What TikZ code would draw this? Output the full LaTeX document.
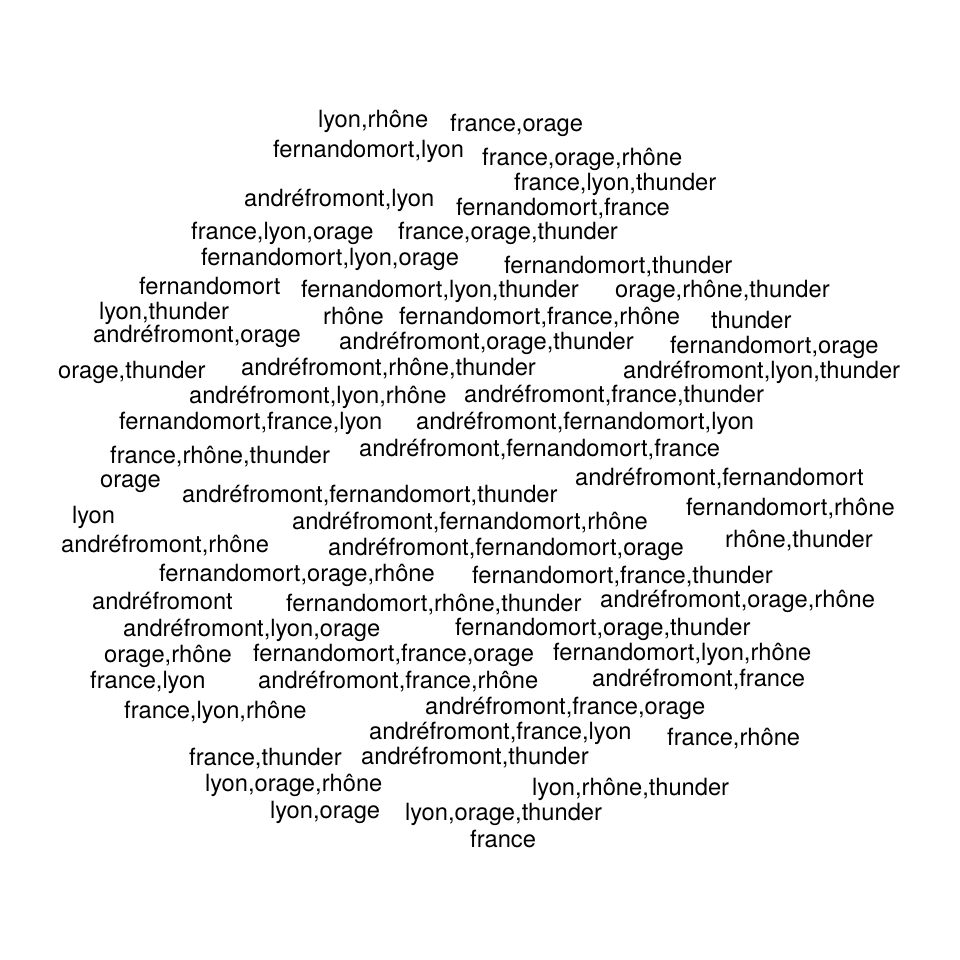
\documentclass[tikz,border=0pt]{standalone}
\usepackage{fontspec}
\setmainfont{TeX Gyre Heros}
\begin{document}
\begin{tikzpicture}[x=1pt,y=-1pt,
  word/.style={anchor=base west,inner sep=0pt,font=\fontsize{23.7}{28}\selectfont,text=black}]
\useasboundingbox[fill=white] (0,0) rectangle (960,960);
\node[word] (t1) at (318,127.5) {lyon,rhône};
\node[word] (t2) at (450,131.5) {france,orage};
\node[word] (t3) at (273,157.5) {fernandomort,lyon};
\node[word] (t4) at (482,165.5) {france,orage,rhône};
\node[word] (t5) at (514,190.5) {france,lyon,thunder};
\node[word] (t6) at (244,206.5) {andréfromont,lyon};
\node[word] (t7) at (456,215.5) {fernandomort,france};
\node[word] (t8) at (191,239.5) {france,lyon,orage};
\node[word] (t9) at (398,239.5) {france,orage,thunder};
\node[word] (t10) at (201,265.5) {fernandomort,lyon,orage};
\node[word] (t11) at (504,273.5) {fernandomort,thunder};
\node[word] (t12) at (139,294.5) {fernandomort};
\node[word] (t13) at (301,297.5) {fernandomort,lyon,thunder};
\node[word] (t14) at (615,297.5) {orage,rhône,thunder};
\node[word] (t15) at (99,319.5) {lyon,thunder};
\node[word] (t16) at (323,324.5) {rhône};
\node[word] (t17) at (399,324.5) {fernandomort,france,rhône};
\node[word] (t18) at (711,328.5) {thunder};
\node[word] (t19) at (93,342.5) {andréfromont,orage};
\node[word] (t20) at (339,349.5) {andréfromont,orage,thunder};
\node[word] (t21) at (670,353.5) {fernandomort,orage};
\node[word] (t22) at (58,378.5) {orage,thunder};
\node[word] (t23) at (241,375.5) {andréfromont,rhône,thunder};
\node[word] (t24) at (623,378.5) {andréfromont,lyon,thunder};
\node[word] (t25) at (189,403.5) {andréfromont,lyon,rhône};
\node[word] (t26) at (464,402.5) {andréfromont,france,thunder};
\node[word] (t27) at (119,429.5) {fernandomort,france,lyon};
\node[word] (t28) at (416,429.5) {andréfromont,fernandomort,lyon};
\node[word] (t29) at (110,463.5) {france,rhône,thunder};
\node[word] (t30) at (359,456.5) {andréfromont,fernandomort,france};
\node[word] (t31) at (575,485.5) {andréfromont,fernandomort};
\node[word] (t32) at (100,487) {orage};
\node[word] (t33) at (182,502.5) {andréfromont,fernandomort,thunder};
\node[word] (t34) at (686,515.5) {fernandomort,rhône};
\node[word] (t35) at (72,523.5) {lyon};
\node[word] (t36) at (292,529.5) {andréfromont,fernandomort,rhône};
\node[word] (t37) at (61,552.5) {andréfromont,rhône};
\node[word] (t38) at (328,555.5) {andréfromont,fernandomort,orage};
\node[word] (t39) at (725,547.5) {rhône,thunder};
\node[word] (t40) at (159,581.5) {fernandomort,orage,rhône};
\node[word] (t41) at (472,583.5) {fernandomort,france,thunder};
\node[word] (t42) at (92,609.5) {andréfromont};
\node[word] (t43) at (286,611.5) {fernandomort,rhône,thunder};
\node[word] (t44) at (600,607.5) {andréfromont,orage,rhône};
\node[word] (t45) at (123,636.5) {andréfromont,lyon,orage};
\node[word] (t46) at (455,635.5) {fernandomort,orage,thunder};
\node[word] (t47) at (104,662.5) {orage,rhône};
\node[word] (t48) at (253,661.5) {fernandomort,france,orage};
\node[word] (t49) at (553,660.5) {fernandomort,lyon,rhône};
\node[word] (t50) at (90,688.5) {france,lyon};
\node[word] (t51) at (258,688.5) {andréfromont,france,rhône};
\node[word] (t52) at (592,686.5) {andréfromont,france};
\node[word] (t53) at (124,718.5) {france,lyon,rhône};
\node[word] (t54) at (425,714.5) {andréfromont,france,orage};
\node[word] (t55) at (369,739.5) {andréfromont,france,lyon};
\node[word] (t56) at (667,745.5) {france,rhône};
\node[word] (t57) at (189,765.5) {france,thunder};
\node[word] (t58) at (361,764.5) {andréfromont,thunder};
\node[word] (t59) at (205,791.5) {lyon,orage,rhône};
\node[word] (t60) at (532,795.5) {lyon,rhône,thunder};
\node[word] (t61) at (270,818.5) {lyon,orage};
\node[word] (t62) at (405,820.5) {lyon,orage,thunder};
\node[word] (t63) at (470,847.5) {france};
\end{tikzpicture}
\end{document}
